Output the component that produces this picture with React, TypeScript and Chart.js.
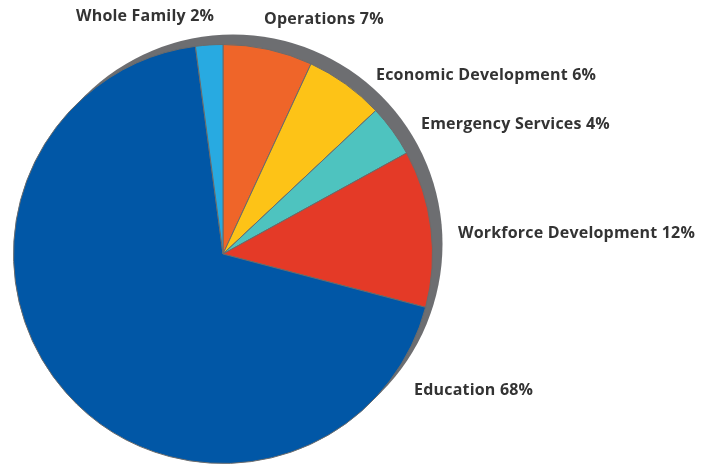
import React, { useEffect, useRef } from "react";
import { Chart, registerables } from "chart.js";

Chart.register(...registerables);

const CATEGORIES = [
  "Operations",
  "Economic Development",
  "Emergency Services",
  "Workforce Development",
  "Education",
  "Whole Family",
];
const SHARE_VALUES = [6.9, 6.1, 4.0, 12.1, 68.8, 2.1];
const SHARE_LABELS = ["7%", "6%", "4%", "12%", "68%", "2%"];

const COLORS = ["#ef6529", "#fdc317", "#4ec3bf", "#e43a27", "#0157a6", "#28aae1"];
// label anchor (left x, baseline y) per slice — layout only
const LABEL_POS: [number, number][] = [
  [264, 24],
  [376, 80],
  [421, 129],
  [458, 238],
  [414, 395],
  [76, 21],
];

export default function App() {
  const ref = useRef<HTMLCanvasElement | null>(null);
  useEffect(() => {
    document.body.style.margin = "0";
    const canvas = ref.current!;
    const shadowPlugin = {
      id: "shadow",
      beforeDatasetsDraw(chart: any) {
        const arc = chart.getDatasetMeta(0).data[0];
        if (!arc) return;
        const { x, y, outerRadius } = arc.getProps(["x", "y", "outerRadius"], true);
        const ctx = chart.ctx;
        ctx.save();
        ctx.beginPath();
        ctx.arc(x + 10, y - 10, outerRadius, 0, Math.PI * 2);
        ctx.fillStyle = "#6d6e71";
        ctx.fill();
        ctx.restore();
      },
    };
    const labelPlugin = {
      id: "labels",
      afterDatasetsDraw(chart: any) {
        const ctx = chart.ctx;
        ctx.save();
        ctx.font = "bold 16px 'Open Sans'";
        (ctx as any).letterSpacing = "0.2px";
        ctx.fillStyle = "#333333";
        ctx.textAlign = "left";
        ctx.textBaseline = "alphabetic";
        CATEGORIES.forEach((c, i) => {
          const [lx, ly] = LABEL_POS[i];
          ctx.fillText(`${c} ${SHARE_LABELS[i]}`, lx, ly);
        });
        ctx.restore();
      },
    };
    const chart = new Chart(canvas, {
      type: "pie",
      data: {
        labels: CATEGORIES,
        datasets: [
          {
            data: SHARE_VALUES,
            backgroundColor: COLORS,
            borderColor: "#6b6b6b",
            borderWidth: 1,
          },
        ],
      },
      options: {
        animation: false,
        responsive: false,
        devicePixelRatio: 1,
        layout: { padding: { left: 13, top: 44, right: 274, bottom: 2 } },
        plugins: { legend: { display: false }, tooltip: { enabled: false } },
      },
      plugins: [shadowPlugin, labelPlugin],
    });
    return () => chart.destroy();
  }, []);
  return (
    <div style={{ width: 707, height: 466, background: "#fff" }}>
      <canvas ref={ref} width={707} height={466} style={{ display: "block" }} />
    </div>
  );
}
